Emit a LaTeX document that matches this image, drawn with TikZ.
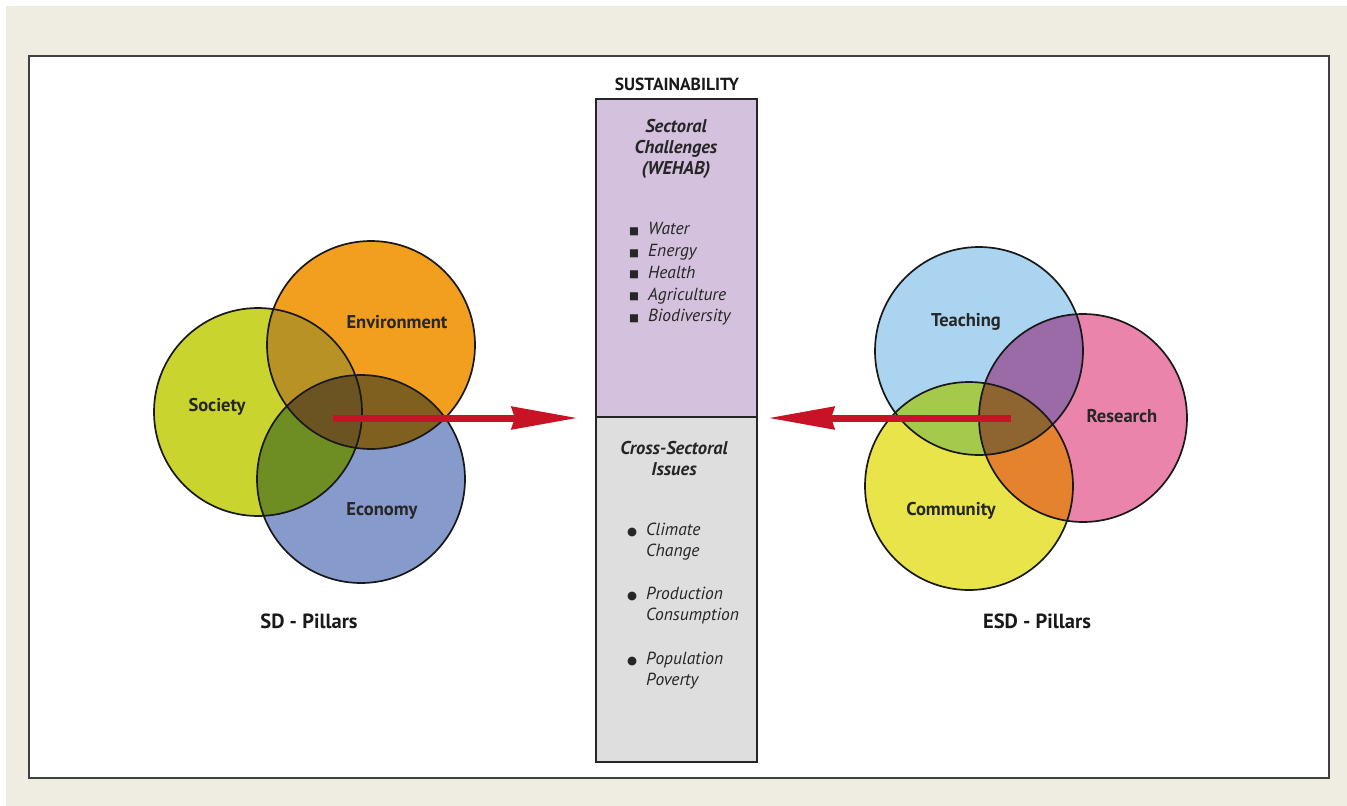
\documentclass[tikz,border=0pt]{standalone}
\usepackage{fontspec}
\setmainfont{PT Sans}
\newfontfamily\dejavu{DejaVu Sans}
\usetikzlibrary{arrows.meta}
\definecolor{bgc}{RGB}{239,237,225}
\definecolor{socc}{RGB}{201,212,47}
\definecolor{envc}{RGB}{242,158,31}
\definecolor{ecoc}{RGB}{134,154,204}
\definecolor{socenv}{RGB}{185,146,37}
\definecolor{soceco}{RGB}{110,141,35}
\definecolor{enveco}{RGB}{128,96,31}
\definecolor{sdall}{RGB}{107,84,34}
\definecolor{teachc}{RGB}{170,212,239}
\definecolor{resc}{RGB}{234,132,171}
\definecolor{comc}{RGB}{232,228,74}
\definecolor{teachres}{RGB}{154,107,166}
\definecolor{teachcom}{RGB}{165,201,74}
\definecolor{rescom}{RGB}{229,130,46}
\definecolor{esdall}{RGB}{142,100,48}
\definecolor{lavc}{RGB}{211,193,222}
\definecolor{grayc}{RGB}{222,222,222}
\definecolor{arrowred}{RGB}{200,18,38}
\newcommand\sqbul{\makebox[19pt][l]{{\dejavu\fontsize{10.5}{10}\selectfont\raisebox{0.5pt}{■}}}}
\newcommand\rdbul{\makebox[19pt][l]{{\dejavu\fontsize{11.5}{10}\selectfont\raisebox{0pt}{●}}}}
\newcommand\indnt{\hspace*{19pt}}
\begin{document}
\begin{tikzpicture}[x=1pt,y=-1pt,
  vennline/.style={draw=black!90,line width=1.7pt,circle,minimum size=208pt,inner sep=0pt},
  vlabel/.style={font=\bfseries\fontsize{18.5}{20}\selectfont,text=black!85},
  pillar/.style={font=\bfseries\fontsize{20.5}{22}\selectfont,text=black!90},
  boxpart/.style={draw=black!85,line width=2.4pt,rectangle,inner sep=0pt,minimum width=161pt,anchor=north west},
  boxtitle/.style={font=\bfseries\itshape\fontsize{18.5}{21}\selectfont,align=center,text=black!85},
  items/.style={font=\itshape\fontsize{17.5}{21.7}\selectfont,align=left,anchor=west,text=black!85,inner sep=0pt},
  bigarrow/.style={draw=arrowred,line width=7pt,-{Stealth[length=66pt,width=22pt,inset=3pt]}}
]
\useasboundingbox (0,0) rectangle (1347,806);
\fill[white] (0,0) rectangle (1347,806);
\fill[bgc] (6,6) rectangle (1347,806);
\fill[white] (29,56) rectangle (1329,778);
\draw[black!75,line width=1.5pt] (29,56) rectangle (1329,778);

% ---------- SD pillars ----------
\coordinate (cS) at (258,412);
\coordinate (cE) at (371,345);
\coordinate (cC) at (361,479);
\fill[socc] (cS) circle (104pt);
\fill[envc] (cE) circle (104pt);
\fill[ecoc] (cC) circle (104pt);
\begin{scope}\clip (cS) circle (104pt); \fill[socenv] (cE) circle (104pt); \fill[soceco] (cC) circle (104pt);\end{scope}
\begin{scope}\clip (cE) circle (104pt); \fill[enveco] (cC) circle (104pt);\end{scope}
\begin{scope}\clip (cS) circle (104pt); \clip (cE) circle (104pt); \fill[sdall] (cC) circle (104pt);\end{scope}
\node[vennline] (society) at (cS) {};
\node[vennline] (environment) at (cE) {};
\node[vennline] (economy) at (cC) {};
\node[vlabel] (socl) at (217,407) {Society};
\node[vlabel] (envl) at (397,322) {Environment};
\node[vlabel] (ecol) at (382,511) {Economy};
\node[pillar] (sdp) at (309,621) {SD - Pillars};

% ---------- ESD pillars ----------
\coordinate (cT) at (979,351);
\coordinate (cR) at (1083,418);
\coordinate (cM) at (969,486);
\fill[teachc] (cT) circle (104pt);
\fill[resc] (cR) circle (104pt);
\fill[comc] (cM) circle (104pt);
\begin{scope}\clip (cT) circle (104pt); \fill[teachres] (cR) circle (104pt); \fill[teachcom] (cM) circle (104pt);\end{scope}
\begin{scope}\clip (cR) circle (104pt); \fill[rescom] (cM) circle (104pt);\end{scope}
\begin{scope}\clip (cT) circle (104pt); \clip (cR) circle (104pt); \fill[esdall] (cM) circle (104pt);\end{scope}
\node[vennline] (teaching) at (cT) {};
\node[vennline] (research) at (cR) {};
\node[vennline] (community) at (cM) {};
\node[vlabel] (teachl) at (966,322) {Teaching};
\node[vlabel] (resl) at (1122,416) {Research};
\node[vlabel] (coml) at (951,511) {Community};
\node[pillar] (esdp) at (1037,621) {ESD - Pillars};

% ---------- central column ----------
\node[boxpart,fill=lavc,minimum height=318pt] (challenges) at (595,98) {};
\node[boxpart,fill=grayc,minimum height=345pt] (cross) at (595,416) {};
\node[font=\bfseries\fontsize{17.5}{18}\selectfont,text=black!90] (sust) at (677,84) {SUSTAINABILITY};
\node[boxtitle] (sectt) at (676,149) {Sectoral\\Challenges\\(WEHAB)};
\node[items] (wehab) at (629,274) {\sqbul Water\\\sqbul Energy\\\sqbul Health\\\sqbul Agriculture\\\sqbul Biodiversity};
\node[boxtitle] (crosst) at (674,459) {Cross-Sectoral\\Issues};
\node[items] (climate) at (627,541.5) {\rdbul Climate\\\indnt Change};
\node[items] (prod) at (627,605.5) {\rdbul Production\\\indnt Consumption};
\node[items] (pop) at (627,670.5) {\rdbul Population\\\indnt Poverty};

% ---------- arrows ----------
\coordinate (lstart) at (333,418);
\coordinate (ltip) at (578,418);
\coordinate (rstart) at (1011,418);
\coordinate (rtip) at (768,418);
\draw[bigarrow] (lstart) -- (ltip);
\draw[bigarrow] (rstart) -- (rtip);
\end{tikzpicture}
\end{document}
